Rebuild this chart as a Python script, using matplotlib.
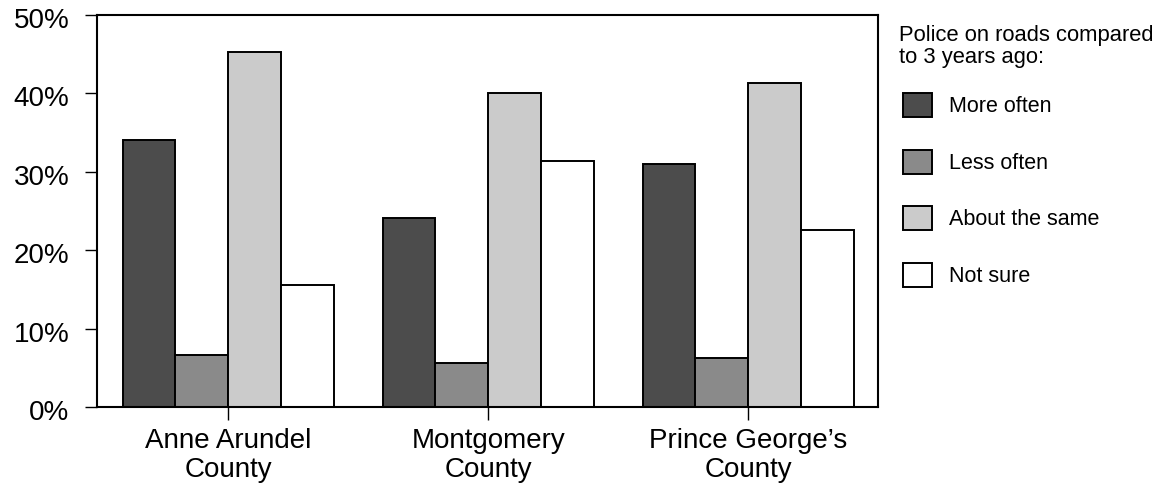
import matplotlib
matplotlib.use("Agg")
import matplotlib.pyplot as plt
import matplotlib.transforms as mtransforms
from matplotlib.patches import Patch
import numpy as np

plt.rcParams['font.family'] = ['Liberation Sans', 'DejaVu Sans']

counties = ["Anne Arundel\nCounty", "Montgomery\nCounty", "Prince George\u2019s\nCounty"]
responses = ["More often", "Less often", "About the same", "Not sure"]
more_often = [34.0, 24.1, 31.0]
less_often = [6.6, 5.6, 6.3]
about_same = [45.3, 40.0, 41.3]
not_sure = [15.5, 31.4, 22.6]
y_ticks = [0, 10, 20, 30, 40, 50]
legend_title = "Police on roads compared\nto 3 years ago:"

series = [more_often, less_often, about_same, not_sure]
colors = ["#4c4c4c", "#8a8a8a", "#cbcbcb", "#ffffff"]

fig = plt.figure(figsize=(11.6, 4.88), dpi=100)
ax = fig.add_axes([97 / 1160, 1 - 407 / 488, (878 - 97) / 1160, (407 - 15) / 488])

x = np.arange(len(counties))
w = 0.203
for i, (vals, c) in enumerate(zip(series, colors)):
    ax.bar(x + (i - 1.5) * w, vals, width=w, color=c, edgecolor="black",
           linewidth=1.4, label=responses[i], zorder=2)

ax.set_xlim(-0.505, 2.5)
ax.set_ylim(0, 50)
ax.set_yticks(y_ticks)
ax.set_yticklabels([f"{t}%" for t in y_ticks])
ax.set_xticks(x)
ax.set_xticklabels(counties)
ax.tick_params(axis="y", direction="out", length=9, width=1, pad=11, labelsize=20)
ax.tick_params(axis="x", direction="out", length=9, width=1, pad=6, labelsize=20)
for lbl in ax.get_yticklabels():
    lbl.set_transform(lbl.get_transform() +
                      mtransforms.ScaledTranslation(0, -3 / 100, fig.dpi_scale_trans))
for lbl in ax.get_xticklabels():
    lbl.set_linespacing(1.17)
for s in ax.spines.values():
    s.set_linewidth(1.5)
    s.set_color("black")

# legend title as its own text, legend entries below it
fig.text(899 / 1160, 1 - 25 / 488, legend_title, ha="left", va="top",
         fontsize=15.8, linespacing=1.05)

handles = [Patch(facecolor=c, edgecolor="black", linewidth=1.4) for c in colors]
leg = fig.legend(handles, responses, loc="upper left", bbox_to_anchor=(903 / 1160, 1 - 93 / 488),
                 frameon=False, fontsize=15.5,
                 handlelength=1.35, handleheight=1.35, handletextpad=0.8,
                 labelspacing=1.5, borderaxespad=0, borderpad=0)

fig.savefig("out.png", dpi=100)
